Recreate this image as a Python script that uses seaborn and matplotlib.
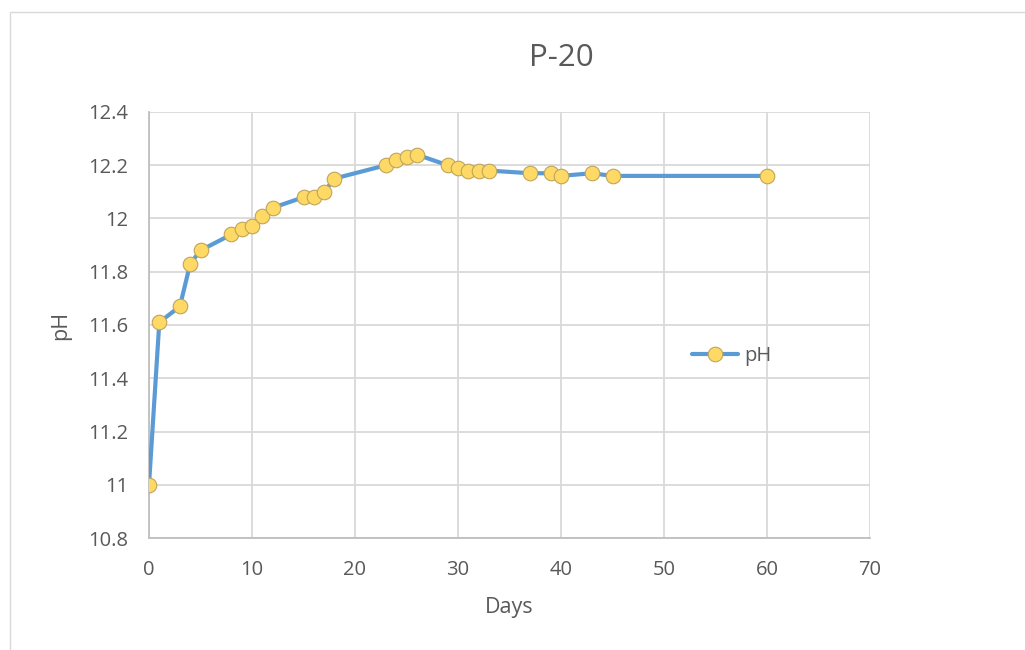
import matplotlib
matplotlib.use("Agg")
import matplotlib.pyplot as plt
from matplotlib.patches import Rectangle
from matplotlib.ticker import FuncFormatter, MultipleLocator
import seaborn as sns
import pandas as pd

# Measured pH of sample P-20 over time
days = [0, 1, 3, 4, 5, 8, 9, 10, 11, 12, 15, 16, 17, 18, 23, 24, 25, 26,
        29, 30, 31, 32, 33, 37, 39, 40, 43, 45, 60]
ph = [11.00, 11.61, 11.67, 11.83, 11.88, 11.94, 11.96, 11.97, 12.01, 12.04,
      12.08, 12.08, 12.10, 12.15, 12.20, 12.22, 12.23, 12.24,
      12.20, 12.19, 12.18, 12.18, 12.18, 12.17, 12.17, 12.16, 12.17, 12.16,
      12.16]
series_name = "pH"
title = "P-20"
x_label = "Days"
y_label = "pH"

df = pd.DataFrame({"Days": days, "pH": ph})

sns.set_theme(style="white")
plt.rcParams["font.family"] = ["Open Sans", "DejaVu Sans"]

text_color = "#595959"
grid_color = "#D9D9D9"

fig = plt.figure(figsize=(10.25, 6.5), dpi=100)
ax = fig.add_axes([149 / 1025, 1 - 538 / 650, (870 - 149) / 1025, (538 - 112) / 650])

# Outer chart border
fig.patches.append(Rectangle((10 / 1025, -0.05), 1.1, 1 - 12 / 650 + 0.05,
                             transform=fig.transFigure, fill=False,
                             edgecolor="#D9D9D9", linewidth=1.0))

sns.lineplot(data=df, x="Days", y="pH", ax=ax, color="#5B9BD5", linewidth=3.0,
             marker="o", markersize=10.5, markerfacecolor="#FFD966",
             markeredgecolor="#BFA55A", markeredgewidth=0.8, label=series_name,
             zorder=3)

ax.set_xlim(0, 70)
ax.set_ylim(10.8, 12.4)
ax.xaxis.set_major_locator(MultipleLocator(10))
ax.yaxis.set_major_locator(MultipleLocator(0.2))
ax.yaxis.set_major_formatter(FuncFormatter(lambda v, p: f"{v:g}"))

ax.grid(True, color=grid_color, linewidth=1.3)
ax.set_axisbelow(True)
for side in ["top", "right"]:
    ax.spines[side].set_visible(False)
for side in ["left", "bottom"]:
    ax.spines[side].set_color("#BFBFBF")
    ax.spines[side].set_linewidth(1.3)

ax.tick_params(axis="both", length=0, labelsize=14.5, labelcolor=text_color)
ax.tick_params(axis="y", pad=15)
ax.tick_params(axis="x", pad=16)

ax.set_xlabel(x_label, fontsize=15.5, color=text_color, labelpad=12)
ax.set_ylabel(y_label, fontsize=15.5, color=text_color, labelpad=12)
fig.text(561 / 1025, 1 - 58 / 650, title, ha="center", va="center",
         fontsize=22.5, color=text_color)

leg = ax.legend(loc="center left", bbox_to_anchor=(0.728, 0.427), frameon=False,
                fontsize=14.5, handlelength=2.3, handletextpad=0.3)
for t in leg.get_texts():
    t.set_color(text_color)

fig.savefig("out.png", dpi=100, facecolor="white")
